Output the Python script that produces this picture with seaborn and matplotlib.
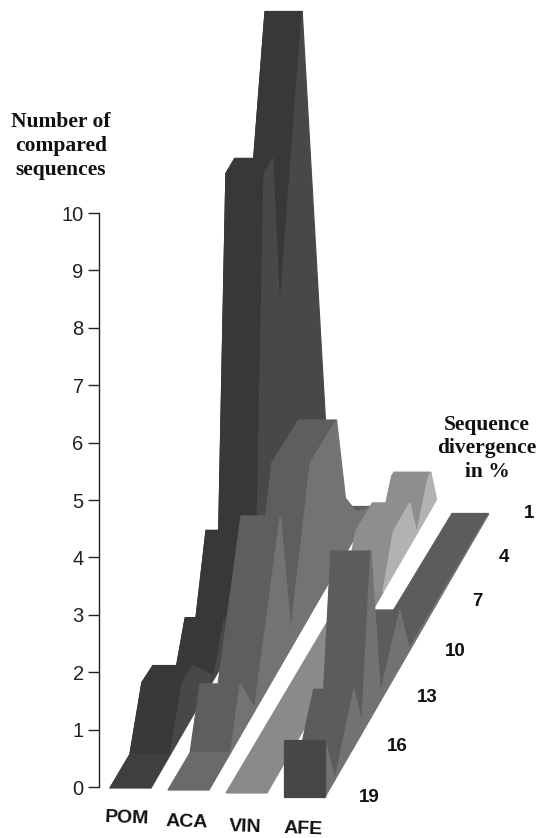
import numpy as np
import pandas as pd
import matplotlib
matplotlib.use("Agg")
import matplotlib.pyplot as plt
import seaborn as sns

# ---- data: (depth along divergence axis, number of sequences)
groups = ["POM", "ACA", "VIN", "AFE"]
divergence_labels = ["19", "16", "13", "10", "7", "4", "1"]
y_ticks = list(range(0, 11))

pom_depth = [0, 0.83, 1.33, 1.79, 2.7, 3.13, 3.14, 3.5, 4.0, 4.01, 4.5, 4.83, 5.2, 5.5, 6.46, 7.6]
pom_value = [0, 0, 0.9, 0.87, 0.05, 0.75, 0.75, 0.2, 1.66, 1.66, 0.7, 7.3, 7.3, 4.44, 8.97, 0]
aca_depth = [0, 0.92, 1.33, 1.34, 1.95, 3.04, 3.05, 3.5, 4.33, 5.45, 5.83, 6.3, 7]
aca_value = [0, 0, 0.9, 0.9, 0.05, 2.62, 2.62, 0.3, 2.65, 2.6, 0.97, 0.4, 0]
vin_depth = [0, 4.95, 5.4, 6.1, 6.4, 6.9, 7.0, 7.25]
vin_value = [0, 0, 0.75, 0.75, 0.02, 0.65, 0.65, 0]
afe_depth = [0, 0, 0.42, 1.23, 1.24, 1.58, 1.95, 1.96, 2.37, 3.2, 3.6, 7]
afe_value = [0, 1, 0, 1, 1, 0.17, 2.9, 2.9, 0.14, 1, 0.05, 0]

profiles = {"POM": (pom_depth, pom_value), "ACA": (aca_depth, aca_value),
            "VIN": (vin_depth, vin_value), "AFE": (afe_depth, afe_value)}
front_colors = {"POM": "#38383a", "ACA": "#5e5e5e", "VIN": "#8e8e8e", "AFE": "#5c5c5c"}
wall_colors = {"POM": "#484848", "ACA": "#737373", "VIN": "#b2b2b2", "AFE": "#727272"}
flat_colors = {"POM": "#3f3f3f", "ACA": "#6a6a6a", "VIN": "#8a8a8a", "AFE": "#5f5f5f"}
face_color = "#474747"

# ---- figure, one axes over the whole figure; y scale = sequences
W, H = 538, 838
Y0, PX_PER_UNIT = 787.0, 57.4
sns.set_theme(style="white")
plt.rcParams["font.family"] = ["Liberation Sans", "DejaVu Sans"]
fig = plt.figure(figsize=(W / 100, H / 100), dpi=100)
ax = fig.add_axes([0, 0, 1, 1])
ax.set_xlim(0, W)
ax.set_ylim((Y0 - H) / PX_PER_UNIT, Y0 / PX_PER_UNIT)


def up(px_y):
    return (Y0 - px_y) / PX_PER_UNIT


# oblique projection of the ribbons
BASE_X = {"POM": 110, "ACA": 168, "VIN": 226, "AFE": 284}
BASE_Y = {"POM": 788, "ACA": 790, "VIN": 793, "AFE": 797}
STEP_X, STEP_Y = 24.0, 40.5


def project(name, depth, value, side):
    width = 41 - 0.6 * depth
    x = BASE_X[name] + STEP_X * depth + side * width
    y = up(BASE_Y[name] - STEP_Y * depth) + value
    return x, y


outline_rows = []
for order, name in enumerate(groups):
    d, v = map(np.asarray, profiles[name])
    for k in range(len(d) - 2, -1, -1):
        d1, d2, v1, v2 = d[k], d[k + 1], v[k], v[k + 1]
        xr1, yr1 = project(name, d1, v1, 1)
        xr2, yr2 = project(name, d2, v2, 1)
        xb1, yb1 = project(name, d1, 0, 1)
        xb2, yb2 = project(name, d2, 0, 1)
        xl1, yl1 = project(name, d1, v1, 0)
        xl2, yl2 = project(name, d2, v2, 0)
        backfacing = yr2 < yr1
        flat = (v1 == 0 and v2 == 0)
        z = 10 * order + (len(d) - k) * 0.1
        if not backfacing:
            col = flat_colors[name] if flat else front_colors[name]
            if d1 == d2:
                col = face_color
            ax.fill([xl1, xr1, xr2, xl2], [yl1, yr1, yr2, yl2], color=col,
                    lw=0.9, zorder=z)
        if d2 > d1 and not flat:
            ax.fill([xr1, xr2, xb2, xb1], [yr1, yr2, yb2, yb1],
                    color=wall_colors[name], lw=0.9, zorder=z + 0.01)
    for di, vi in zip(d, v):
        xl, yl = project(name, di, vi, 0)
        outline_rows.append({"group": name, "x": xl, "y": yl})

# thin dark outline of the back ribbon, behind the fills so only its rim shows
outline = pd.DataFrame(outline_rows)
sns.lineplot(data=outline[outline.group == "POM"], x="x", y="y", sort=False,
             estimator=None, color="#222222", lw=0.8, ax=ax, zorder=-1, legend=False)

# y axis
sns.despine(ax=ax, left=False, bottom=True, top=True, right=True)
ax.spines["left"].set_position(("data", 99))
ax.spines["left"].set_bounds(0, 10)
ax.spines["left"].set_color("#222222")
ax.spines["left"].set_linewidth(1.0)
ax.set_yticks(y_ticks)
ax.set_yticklabels([str(t) for t in y_ticks], fontsize=14.5, color="#222222")
ax.tick_params(axis="y", left=True, length=8, width=1.0, color="#222222", pad=3, direction="out")
ax.set_xticks([])
ax.set_xlabel("")
ax.set_ylabel("")
ax.yaxis.set_tick_params(labelleft=True)
ax.patch.set_alpha(0)

# titles
serif = dict(family="Liberation Serif", fontweight="bold", color="#111111", ha="center", va="center")
for txt, py in zip(["Number of", "compared", "sequences"], [122, 146, 170]):
    ax.text(61, up(py), txt, fontsize=15.5, **serif)
for txt, py in zip(["Sequence", "divergence", "in %"], [425, 448, 472]):
    ax.text(487, up(py), txt, fontsize=15.5, **serif)

# category labels
sans = dict(fontweight="bold", color="#111111", ha="center", va="center")
for g, px_x, py in zip(groups, [127, 187, 245, 303], [818, 822, 827, 829]):
    ax.text(px_x, up(py), g, fontsize=14, rotation=-2, **sans)
for lab, px_x, py in zip(divergence_labels, [369, 397, 427, 455, 477, 504, 529],
                         [797, 746, 697, 651, 601, 557, 513]):
    ax.text(px_x, up(py), lab, fontsize=13.5, **sans)

fig.savefig("out.png", dpi=100, facecolor="white")
